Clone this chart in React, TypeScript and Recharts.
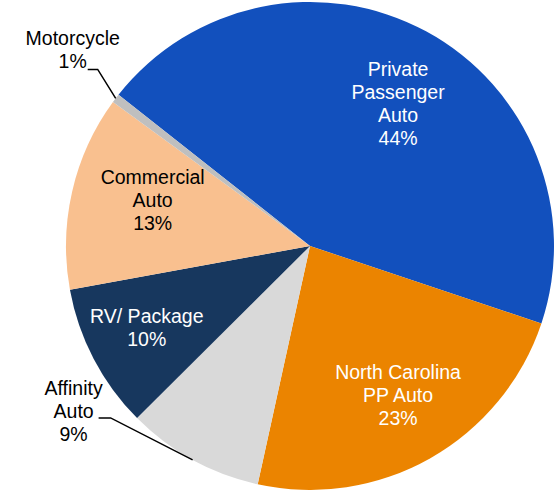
import { PieChart, Pie, Cell } from 'recharts';

const NAMES = ['Private Passenger Auto', 'North Carolina PP Auto', 'Affinity Auto', 'RV/ Package', 'Commercial Auto', 'Motorcycle'];
const VALUES = [44.5, 23.3, 9.1, 9.6, 12.9, 0.6];
const PCT_LABELS = ['44%', '23%', '9%', '10%', '13%', '1%'];
const LABEL_LINES = [
  ['Private', 'Passenger', 'Auto'],
  ['North Carolina', 'PP Auto'],
  ['Affinity', 'Auto'],
  ['RV/ Package'],
  ['Commercial', 'Auto'],
  ['Motorcycle'],
];

const COLORS = ['#1250BD', '#EB8400', '#D9D9D9', '#17375E', '#F9C08F', '#BFBFBF'];
const TEXT_COLORS = ['#fff', '#fff', '#000', '#fff', '#000', '#000'];

const RADIAN = Math.PI / 180;
const FONT = 19.5;
const LINE_H = 23;
const START = 141.7;

// inside labels: radius factor + nudge, outside labels: leader elbow offset + text offset
const INSIDE: Record<number, { r: number; nudge: [number, number] }> = {
  0: { r: 0.69, nudge: [8, 6] },
  1: { r: 0.69, nudge: [5, 3] },
  3: { r: 0.75, nudge: [-1, -3] },
  4: { r: 0.67, nudge: [2, -9] },
};
const OUTSIDE: Record<number, { elbow: [number, number]; tail: number; text: [number, number] }> = {
  2: { elbow: [-82, -42], tail: 12, text: [-25, -7] },
  5: { elbow: [-18, -29], tail: 10, text: [-15, -20] },
};

const data = NAMES.map((name, i) => ({ name, value: VALUES[i] }));

function renderLabel(props: any) {
  const { cx, cy, midAngle, outerRadius, index } = props;
  const lines = [...LABEL_LINES[index], PCT_LABELS[index]];
  const cos = Math.cos(-midAngle * RADIAN);
  const sin = Math.sin(-midAngle * RADIAN);
  let tx: number;
  let ty: number;
  let leader = null;
  const out = OUTSIDE[index];
  if (out) {
    const sx = cx + outerRadius * cos;
    const sy = cy + outerRadius * sin;
    const ex = sx + out.elbow[0];
    const ey = sy + out.elbow[1];
    const hx = ex - out.tail;
    leader = (
      <polyline points={`${sx},${sy} ${ex},${ey} ${hx},${ey}`} fill="none" stroke="#000" strokeWidth={1.5} />
    );
    tx = hx + out.text[0];
    ty = ey + out.text[1];
  } else {
    const cfg = INSIDE[index];
    const r = outerRadius * cfg.r;
    tx = cx + r * cos + cfg.nudge[0];
    ty = cy + r * sin + cfg.nudge[1];
  }
  const top = ty - ((lines.length - 1) * LINE_H) / 2;
  return (
    <g key={`label-${index}`}>
      {leader}
      <text
        x={tx}
        y={top}
        textAnchor="middle"
        dominantBaseline="central"
        fill={TEXT_COLORS[index]}
        fontSize={FONT}
        fontFamily="'Liberation Sans', Arial, sans-serif"
      >
        {lines.map((l, i) => (
          <tspan key={i} x={tx} y={top + i * LINE_H}>
            {l}
          </tspan>
        ))}
      </text>
    </g>
  );
}

export default function App() {
  return (
    <div style={{ position: 'absolute', left: 0, top: 0, width: 555, height: 490, background: '#fff' }}>
      <PieChart width={555} height={490} margin={{ top: 0, right: 0, bottom: 0, left: 0 }}>
        <Pie
          data={data}
          dataKey="value"
          cx={310}
          cy={246}
          innerRadius={0}
          outerRadius={244}
          startAngle={START}
          endAngle={START - 360}
          stroke="none"
          labelLine={false}
          label={renderLabel}
          isAnimationActive={false}
        >
          {data.map((_, i) => (
            <Cell key={`cell-${i}`} fill={COLORS[i]} />
          ))}
        </Pie>
      </PieChart>
    </div>
  );
}
